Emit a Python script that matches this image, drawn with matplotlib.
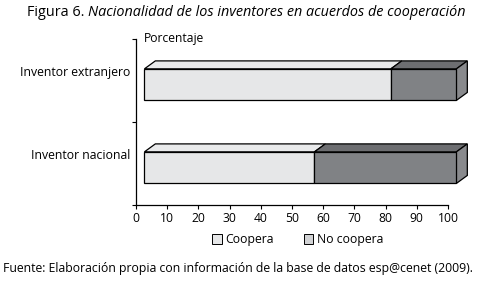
import matplotlib.pyplot as plt
from matplotlib.patches import Polygon, Patch

plt.rcParams['font.family'] = ['Open Sans', 'DejaVu Sans']

categories = ['Inventor nacional', 'Inventor extranjero']
coopera = [54.5, 79]
no_coopera = [45.5, 21]
x_ticks = [0, 10, 20, 30, 40, 50, 60, 70, 80, 90, 100]

light_front, light_top = '#e6e7e8', '#e9eaeb'
dark_front, dark_top, dark_side = '#808285', '#6d6e71', '#898a8d'

fig = plt.figure(figsize=(4.78, 2.89), dpi=100)
ax = fig.add_axes([0.2845, 0.2907, 0.6527, 0.5744])

# pseudo-3D bars: front face shifted right/down, depth goes up-right
shift_x, shift_y = 2.7, -0.05
dx, dy = 3.5, 0.096
h = 0.38

for i, (c, n) in enumerate(zip(coopera, no_coopera)):
    yc = i + 0.5 + shift_y
    y0, y1 = yc - h / 2, yc + h / 2
    x0 = shift_x
    x1 = x0 + c
    x2 = x1 + n
    ax.barh(yc, c, left=x0, height=h, color=light_front, edgecolor='black',
            linewidth=0.9, clip_on=False, zorder=3)
    ax.barh(yc, n, left=x1, height=h, color=dark_front, edgecolor='black',
            linewidth=0.9, clip_on=False, zorder=3)
    faces = [
        ([(x0, y1), (x1, y1), (x1 + dx, y1 + dy), (x0 + dx, y1 + dy)], light_top),
        ([(x1, y1), (x2, y1), (x2 + dx, y1 + dy), (x1 + dx, y1 + dy)], dark_top),
        ([(x2, y0), (x2, y1), (x2 + dx, y1 + dy), (x2 + dx, y0 + dy)], dark_side),
    ]
    for pts, col in faces:
        ax.add_patch(Polygon(pts, closed=True, facecolor=col, edgecolor='black',
                             linewidth=0.9, clip_on=False, zorder=2))

ax.set_xlim(0, 100)
ax.set_ylim(0, 2)
ax.set_xticks(x_ticks)
ax.set_xticklabels([str(t) for t in x_ticks], fontsize=8.7)
ax.set_yticks([0, 1, 2])
ax.set_yticklabels([])
for i, name in enumerate(categories):
    ax.text(-1.8, i + 0.5 + 0.095, name, ha='right', va='center', fontsize=8.8)
ax.tick_params(axis='x', length=3, width=0.8, pad=2)
ax.tick_params(axis='y', length=3, width=0.8)
for s in ['top', 'right']:
    ax.spines[s].set_visible(False)
for s in ['left', 'bottom']:
    ax.spines[s].set_linewidth(0.9)

ax.text(2.5, 2.01, 'Porcentaje', ha='left', va='center', fontsize=8.7)

fig.text(0.184, 0.958, 'Figura 6. ', ha='right', va='center', fontsize=10.4)
fig.text(0.184, 0.958, 'Nacionalidad de los inventores en acuerdos de cooperación',
         ha='left', va='center', fontsize=10.4, style='italic')

handles = [Patch(facecolor=light_front, edgecolor='black', linewidth=0.7),
           Patch(facecolor='#d1d2d4', edgecolor='black', linewidth=0.7)]
fig.legend(handles, ['Coopera', 'No coopera'], loc='center', ncol=2,
           bbox_to_anchor=(0.623, 0.17), frameon=False, fontsize=8.8,
           handlelength=0.8, handleheight=0.8, handletextpad=0.3, columnspacing=2.4)

fig.text(0.006, 0.07, 'Fuente: Elaboración propia con información de la base de datos esp@cenet (2009).',
         ha='left', va='center', fontsize=8.85)

fig.savefig('out.png', dpi=100)
